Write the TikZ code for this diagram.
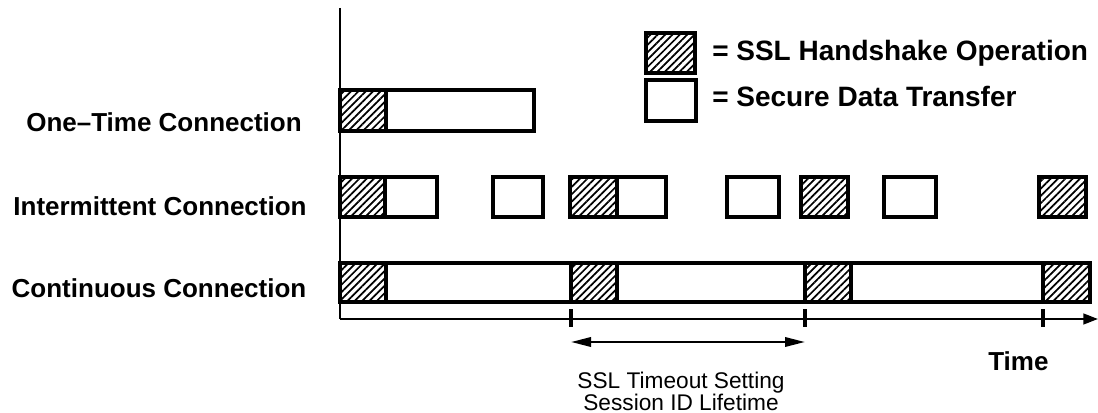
\documentclass[tikz,border=0pt]{standalone}
\usepackage{fontspec}
\setmainfont{Liberation Sans}
\usetikzlibrary{patterns.meta,fit,arrows.meta}
\begin{document}
\begin{tikzpicture}[x=0.75pt,y=-0.75pt,
  box/.style={draw=black,line width=2.6pt,inner sep=0pt},
  hs/.style={box,pattern={Lines[angle=45,distance=3.9pt,line width=1.3pt]}},
  ds/.style={box,fill=white},
  lab/.style={font=\bfseries\fontsize{19.5}{22}\selectfont,anchor=base,inner sep=0pt},
  leg/.style={font=\bfseries\fontsize{21}{24}\selectfont,anchor=base west,inner sep=0pt},
  note/.style={font=\fontsize{17}{20}\selectfont,anchor=base,inner sep=0pt},
  axis/.style={line width=1.8pt},
  tick/.style={line width=2.8pt},
]
\useasboundingbox (0,0) rectangle (1098,413);

% axes
\coordinate (ytop) at (340,8);
\coordinate (org) at (340,319);
\coordinate (xend) at (1098,319);
\draw[axis] (ytop) -- (org);
\draw[axis,-{Triangle[length=11pt,width=8pt]}] (org) -- (xend);

% row labels
\node[lab] (l1) at (164,132) {One--Time Connection};
\node[lab] (l2) at (160,215) {Intermittent Connection};
\node[lab] (l3) at (159,297) {Continuous Connection};

% one-time row
\node[ds,fit={(386,90) (534,131)}] (o2) {};
\node[hs,fit={(340,90) (386,131)}] (o1) {};

% intermittent row
\node[ds,fit={(385,177) (437,217)}] (i2) {};
\node[hs,fit={(340,177) (385,217)}] (i1) {};
\node[ds,fit={(493,177) (543,217)}] (i3) {};
\node[ds,fit={(617,177) (666,217)}] (i5) {};
\node[hs,fit={(570,177) (617,217)}] (i4) {};
\node[ds,fit={(727,177) (779,217)}] (i6) {};
\node[hs,fit={(801,177) (848,217)}] (i7) {};
\node[ds,fit={(884,177) (936,217)}] (i8) {};
\node[hs,fit={(1039,177) (1086,217)}] (i9) {};

% continuous row
\node[ds,fit={(386,263) (571,302)}] (c2) {};
\node[hs,fit={(340,263) (386,302)}] (c1) {};
\node[ds,fit={(617,263) (805,302)}] (c4) {};
\node[hs,fit={(571,263) (617,302)}] (c3) {};
\node[ds,fit={(851,263) (1043,302)}] (c6) {};
\node[hs,fit={(805,263) (851,302)}] (c5) {};
\node[hs,fit={(1043,263) (1090,302)}] (c7) {};

% ticks
\coordinate (t1a) at (571,309); \coordinate (t1b) at (571,327);
\coordinate (t2a) at (805,309); \coordinate (t2b) at (805,327);
\coordinate (t3a) at (1043,309); \coordinate (t3b) at (1043,327);
\draw[tick] (t1a) -- (t1b);
\draw[tick] (t2a) -- (t2b);
\draw[tick] (t3a) -- (t3b);

% lifetime arrow
\coordinate (la) at (571,342);
\coordinate (lb) at (805,342);
\draw[axis,{Triangle[length=15pt,width=7pt]}-{Triangle[length=15pt,width=7pt]}] (la) -- (lb);
\node[note] (n1) at (681,388) {SSL Timeout Setting};
\node[note] (n2) at (681,410) {Session ID Lifetime};

% time label
\node[lab,anchor=base west] (tm) at (988,370) {Time};

% legend
\node[hs,fit={(646,33) (695,73)}] (k1) {};
\node[ds,fit={(646,80) (696,121)}] (k2) {};
\node[leg] (k1t) at (712,61) {= SSL Handshake Operation};
\node[leg] (k2t) at (712,107) {= Secure Data Transfer};
\end{tikzpicture}
\end{document}
